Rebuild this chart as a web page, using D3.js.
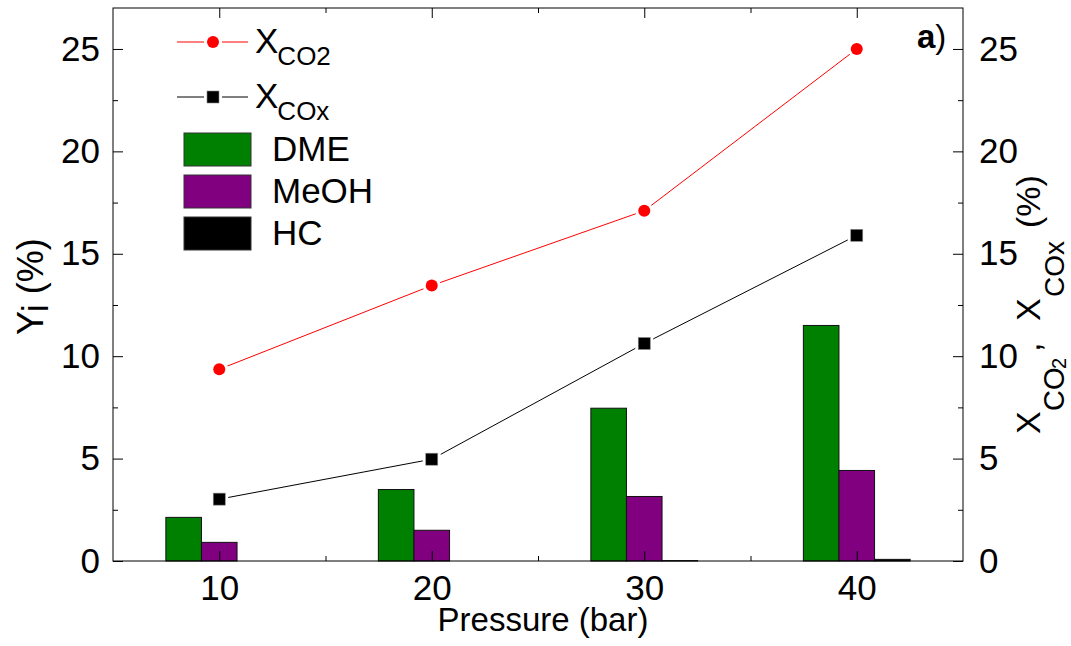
<!DOCTYPE html>
<html>
<head>
<meta charset="utf-8">
<script src="https://cdn.jsdelivr.net/npm/d3@7"></script>
<style>
  html, body { margin: 0; padding: 0; background: #fff; }
  svg { display: block; font-family: "Liberation Sans", Arial, sans-serif; }
</style>
</head>
<body>
<svg id="chart" width="1071" height="646"></svg>
<script>
// Pressure levels (bar)
const pressures = [10, 20, 30, 40];
// Product yields Y_i (%)
const dmeYield  = [2.13, 3.49, 7.46, 11.5];
const meohYield = [0.91, 1.50, 3.15, 4.42];
const hcYield   = [0.0, 0.0, 0.02, 0.08];
// Conversions (%)
const convCO2 = [9.36, 13.45, 17.1, 25.0];
const convCOx = [3.02, 4.97, 10.62, 15.9];
// Axis ticks
const xMajorTicks = [10, 20, 30, 40];
const xMinorTicks = [15, 25, 35];
const yMajorTicks = [0, 5, 10, 15, 20, 25];
const yMinorTicks = [2.5, 7.5, 12.5, 17.5, 22.5];

const svg = d3.select("#chart");
const plotL = 113, plotR = 963, plotT = 8, plotB = 561;

const x = d3.scaleLinear().domain([5, 45]).range([plotL, plotR]);
const y = d3.scaleLinear().domain([0, 27]).range([plotB, plotT]);

const fontSize = 35;
const barW = x(1.675) - x(0);

// Bars: DME left of the pressure, MeOH centred, HC right
const barSeries = [
  { name: "DME",  values: dmeYield,  color: "#008000", offset: -1 },
  { name: "MeOH", values: meohYield, color: "#800080", offset: 0 },
  { name: "HC",   values: hcYield,   color: "#000000", offset: 1 }
];

const barsG = svg.append("g");
barSeries.forEach(s => {
  barsG.selectAll(null)
    .data(pressures.map((p, i) => ({ p, v: s.values[i] })))
    .enter().append("rect")
    .attr("x", d => x(d.p) + (s.offset - 0.5) * barW)
    .attr("width", barW)
    .attr("y", d => y(d.v))
    .attr("height", d => Math.max(0, y(0) - y(d.v)))
    .attr("fill", s.color)
    .attr("stroke", d => d.v > 0 ? "#111" : "none")
    .attr("stroke-width", 1);
});

// Conversion lines
const lineGen = d3.line().x((d, i) => x(pressures[i])).y(d => y(d));
const lineSeries = [
  { values: convCO2, color: "#ff0000", shape: "circle" },
  { values: convCOx, color: "#000000", shape: "square" }
];
lineSeries.forEach(s => {
  svg.append("path")
    .attr("d", lineGen(s.values))
    .attr("fill", "none")
    .attr("stroke", s.color)
    .attr("stroke-width", 1);
});
function drawMarker(g, shape, cx, cy, color) {
  if (shape === "circle") {
    g.append("circle").attr("cx", cx).attr("cy", cy).attr("r", 9).attr("fill", "#fff");
    g.append("circle").attr("cx", cx).attr("cy", cy).attr("r", 6).attr("fill", color);
  } else {
    g.append("rect").attr("x", cx - 9).attr("y", cy - 9).attr("width", 18).attr("height", 18).attr("fill", "#fff");
    g.append("rect").attr("x", cx - 6).attr("y", cy - 6).attr("width", 12).attr("height", 12)
      .attr("fill", color).attr("stroke", "#888").attr("stroke-width", 0.6);
  }
}
lineSeries.forEach(s => {
  const g = svg.append("g");
  s.values.forEach((v, i) => drawMarker(g, s.shape, x(pressures[i]), y(v), s.color));
});

// Axes with inward ticks
function styleAxis(g) {
  g.selectAll(".domain").remove();
  g.selectAll("line").attr("stroke", "#000").attr("stroke-width", 1);
  g.selectAll("text").attr("font-size", fontSize).attr("fill", "#000")
    .attr("font-family", "Liberation Sans, Arial, sans-serif");
}
const axLeft = svg.append("g").attr("transform", `translate(${plotL},0)`)
  .call(d3.axisLeft(y).tickValues(yMajorTicks).tickSize(-10).tickPadding(13).tickFormat(d3.format("d")));
styleAxis(axLeft);
const axLeftMinor = svg.append("g").attr("transform", `translate(${plotL},0)`)
  .call(d3.axisLeft(y).tickValues(yMinorTicks).tickSize(-5).tickFormat(""));
styleAxis(axLeftMinor);

const axRight = svg.append("g").attr("transform", `translate(${plotR},0)`)
  .call(d3.axisRight(y).tickValues(yMajorTicks).tickSize(-10).tickPadding(16).tickFormat(d3.format("d")));
styleAxis(axRight);
const axRightMinor = svg.append("g").attr("transform", `translate(${plotR},0)`)
  .call(d3.axisRight(y).tickValues(yMinorTicks).tickSize(-5).tickFormat(""));
styleAxis(axRightMinor);

const axBottom = svg.append("g").attr("transform", `translate(0,${plotB})`)
  .call(d3.axisBottom(x).tickValues(xMajorTicks).tickSize(-10).tickPadding(14).tickFormat(d3.format("d")));
styleAxis(axBottom);
const axBottomMinor = svg.append("g").attr("transform", `translate(0,${plotB})`)
  .call(d3.axisBottom(x).tickValues(xMinorTicks).tickSize(-5).tickFormat(""));
styleAxis(axBottomMinor);

const axTop = svg.append("g").attr("transform", `translate(0,${plotT})`)
  .call(d3.axisTop(x).tickValues(xMajorTicks).tickSize(-10).tickFormat(""));
styleAxis(axTop);
const axTopMinor = svg.append("g").attr("transform", `translate(0,${plotT})`)
  .call(d3.axisTop(x).tickValues(xMinorTicks).tickSize(-5).tickFormat(""));
styleAxis(axTopMinor);

// Plot frame
svg.append("rect")
  .attr("x", plotL).attr("y", plotT)
  .attr("width", plotR - plotL).attr("height", plotB - plotT)
  .attr("fill", "none").attr("stroke", "#000").attr("stroke-width", 1);

// Axis titles
svg.append("text")
  .attr("x", 543).attr("y", 631)
  .attr("text-anchor", "middle").attr("font-size", 33)
  .text("Pressure (bar)");

// Left title, rotated: x runs upward along the axis (x = -screenY)
const yTitle = svg.append("text")
  .attr("transform", "translate(43,0) rotate(-90)")
  .attr("x", -335).attr("font-size", 36);
yTitle.append("tspan").text("Y");
yTitle.append("tspan").attr("dy", 5).text("i");
yTitle.append("tspan").attr("dy", -5).text(" (%)");

// Right title, pieces placed along the axis
const y2G = svg.append("g").attr("transform", "translate(1040,0) rotate(-90)");
const y2Parts = [
  { t: "X",   at: 434, size: 34, base: 0 },
  { t: "CO",  at: 411, size: 29, base: 24 },
  { t: "2",   at: 369, size: 20, base: 26 },
  { t: ",",   at: 352, size: 34, base: 0 },
  { t: "X",   at: 321, size: 34, base: 0 },
  { t: "COx", at: 297, size: 28, base: 24 },
  { t: "(%)", at: 228, size: 34, base: 0 }
];
y2G.selectAll("text").data(y2Parts).enter().append("text")
  .attr("x", d => -d.at).attr("y", d => d.base)
  .attr("font-size", d => d.size)
  .text(d => d.t);

// Panel label
const panel = svg.append("text").attr("x", 917).attr("y", 48).attr("font-size", 33);
panel.append("tspan").attr("font-weight", "bold").text("a");
panel.append("tspan").text(")");

// Legend
const legend = svg.append("g");
const lineLegend = [
  { color: "#ff0000", shape: "circle", main: "X", sub: "CO2", y: 42 },
  { color: "#000000", shape: "square", main: "X", sub: "COx", y: 97 }
];
lineLegend.forEach(d => {
  legend.append("line").attr("x1", 177).attr("x2", 248).attr("y1", d.y).attr("y2", d.y)
    .attr("stroke", d.color).attr("stroke-width", 1);
  drawMarker(legend, d.shape, 213, d.y, d.color);
  const t = legend.append("text").attr("x", 255).attr("y", d.y + 11).attr("font-size", 35);
  t.append("tspan").text(d.main);
  t.append("tspan").attr("dy", 12).attr("font-size", 26).attr("dx", -1).text(d.sub);
});
barSeries.forEach((s, i) => {
  const by = 133 + i * 42;
  legend.append("rect").attr("x", 184).attr("y", by).attr("width", 67).attr("height", 33)
    .attr("fill", s.color).attr("stroke", "#333").attr("stroke-width", 1);
  legend.append("text").attr("x", 272).attr("y", by + 28).attr("font-size", 35).text(s.name);
});
</script>
</body>
</html>
